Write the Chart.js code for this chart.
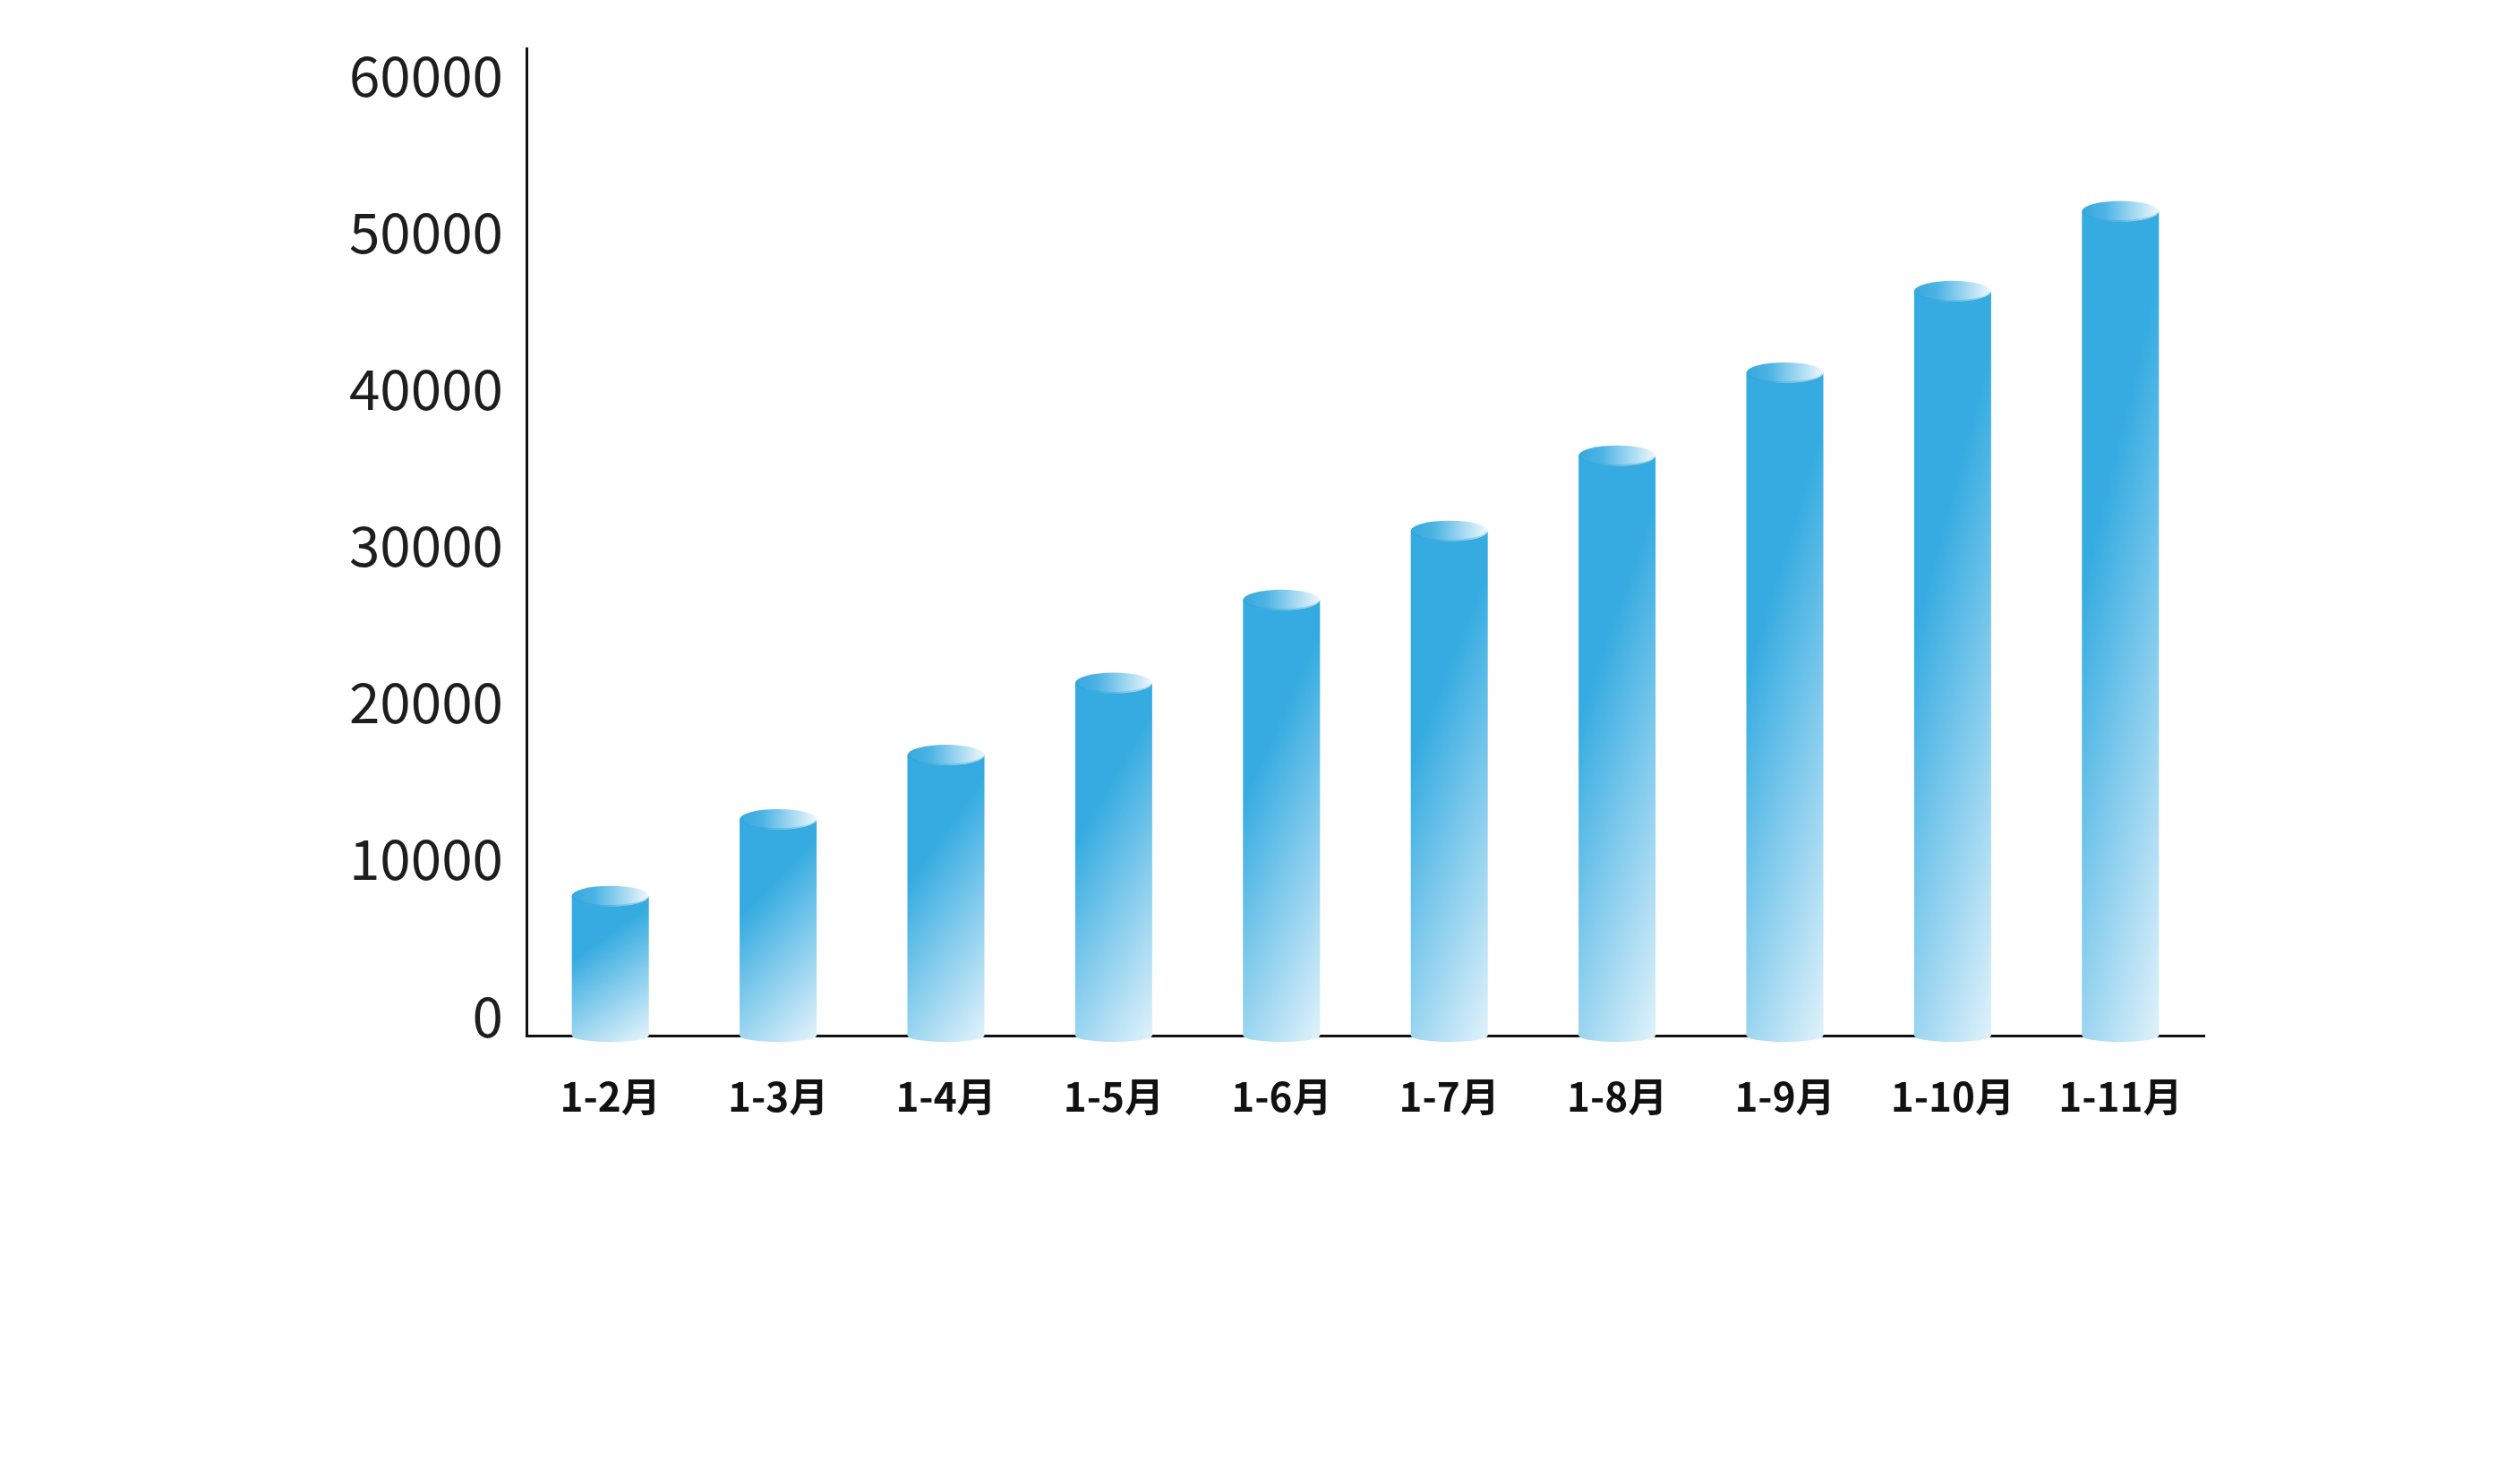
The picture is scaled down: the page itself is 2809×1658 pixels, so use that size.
<!DOCTYPE html>
<html>
<head>
<meta charset="utf-8">
<script src="https://cdn.jsdelivr.net/npm/chart.js@4.4.1/dist/chart.umd.min.js"></script>
<style>
  html, body { margin: 0; padding: 0; background: #fff; }
  #wrap { width: 2809px; height: 1658px; }
</style>
</head>
<body>
<div id="wrap"><canvas id="chart" width="2809" height="1658"></canvas></div>
<script>
	/* data */
	var categories = ['1-2月', '1-3月', '1-4月', '1-5月', '1-6月', '1-7月', '1-8月', '1-9月', '1-10月', '1-11月'];
	var values = [8900, 13800, 17900, 22500, 27800, 32200, 37000, 42300, 47500, 52600];
	var yTicks = [0, 10000, 20000, 30000, 40000, 50000, 60000];

	var BAR_PCT = 0.459;
	var CAP_RY = 11.5;
	var FONT = "'Noto Sans CJK SC', 'Noto Sans', sans-serif";

	// gradient laid out in the bar's own box, dark top-left -> pale bottom-right
	function bodyGradient(c, left, top, w, h) {
		if (!(w > 0 && h > 0 && isFinite(left) && isFinite(top))) return '#35abe1';
		var a = 0.42, b = 1.1, k = 0.5;
		var gx = a / w, gy = b / h;
		var n = gx * gx + gy * gy;
		var x0 = left, y0 = top + h * (k / b);
		var g = c.createLinearGradient(x0, y0, x0 + gx / n, y0 + gy / n);
		g.addColorStop(0, '#35abe1');
		g.addColorStop(1, '#dcf0fa');
		return g;
	}

	function barColour(ctx) {
		var chart = ctx.chart;
		var xs = chart.scales.x, ys = chart.scales.y;
		if (ctx.type !== 'data' || !xs || !ys) return '#35abe1';
		var i = ctx.dataIndex;
		var w = xs.width / categories.length * BAR_PCT;
		var cx = xs.getPixelForValue(i);
		var top = ys.getPixelForValue(values[i]);
		var base = ys.getPixelForValue(0);
		return bodyGradient(chart.ctx, cx - w / 2, top, w, base - top);
	}

	/* Cylinder caps and rounded bottoms */
	var cylinderPlugin = {
		id: 'cylinder',
		afterDatasetsDraw: function(chart) {
			var c = chart.ctx;
			var meta = chart.getDatasetMeta(0);
			meta.data.forEach(function(bar) {
				var p = bar.getProps(['x', 'y', 'base', 'width'], true);
				var left = p.x - p.width / 2;
				var rx = p.width / 2;
				c.save();

				c.beginPath();
				c.ellipse(p.x, p.base, rx, 7, 0, 0, Math.PI);
				c.closePath();
				c.fillStyle = bodyGradient(c, left, p.y, p.width, p.base - p.y);
				c.fill();

				var g = c.createLinearGradient(left, 0, left + p.width, 0);
				g.addColorStop(0, '#36a8df');
				g.addColorStop(0.3, '#4db4e4');
				g.addColorStop(1, '#eef8fd');
				c.beginPath();
				c.ellipse(p.x, p.y, rx, CAP_RY, 0, 0, Math.PI * 2);
				c.fillStyle = g;
				c.fill();

				c.beginPath();
				c.ellipse(p.x, p.y, rx - 1, CAP_RY - 1, 0, 0.15, Math.PI - 0.15);
				c.strokeStyle = 'rgba(40,150,205,0.35)';
				c.lineWidth = 1.2;
				c.stroke();

				c.restore();
			});
		}
	};

	var ctx = document.getElementById('chart');

	var chart = new Chart(ctx, {
		type: 'bar',
		data: {
			labels: categories,
			datasets: [{
				data: values,
				backgroundColor: barColour,
				borderWidth: 0,
				barPercentage: BAR_PCT,
				categoryPercentage: 1
			}]
		},
		plugins: [cylinderPlugin],
		options: {
			responsive: false,
			animation: false,
			layout: {
				padding: { top: 54, right: 347, left: 0, bottom: 0 }
			},
			plugins: {
				legend: { display: false },
				tooltip: { enabled: false }
			},
			scales: {
				x: {
					offset: true,
					grid: { display: false, drawTicks: false },
					border: { display: true, color: '#111', width: 3 },
					ticks: {
						color: '#111',
						padding: 42,
						maxRotation: 0,
						font: { family: FONT, size: 44, weight: 'bold' }
					},
					afterFit: function(scale) {
						scale.height = 501;
						scale.paddingLeft = 0;
						scale.paddingRight = 0;
					}
				},
				y: {
					min: 0,
					max: 63000,
					grid: { display: false, drawTicks: false },
					border: { display: true, color: '#111', width: 3 },
					afterBuildTicks: function(scale) {
						scale.ticks = yTicks.map(function(v) { return { value: v }; });
					},
					ticks: {
						color: '#1e1e1e',
						padding: 26,
						labelOffset: -22,
						font: { family: FONT, size: 62, weight: 'normal' },
						callback: function(v) { return String(v); }
					},
					afterFit: function(scale) {
						scale.width = 588;
						scale.paddingTop = 0;
						scale.paddingBottom = 0;
					}
				}
			}
		}
	});
</script>
</body>
</html>
